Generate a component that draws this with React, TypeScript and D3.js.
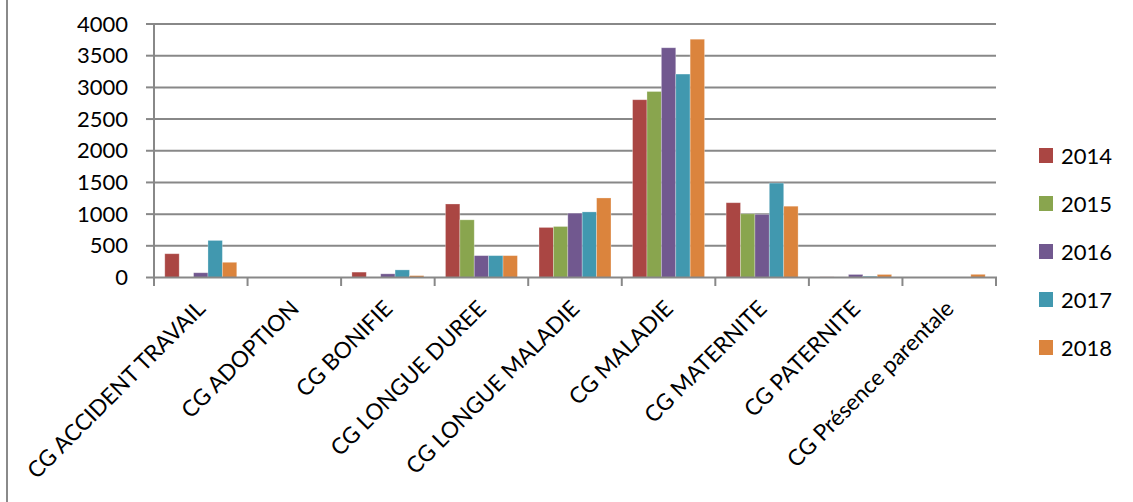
import React from "react";
import * as d3 from "d3";

const categories = [
  "CG ACCIDENT TRAVAIL",
  "CG ADOPTION",
  "CG BONIFIE",
  "CG LONGUE DUREE",
  "CG LONGUE MALADIE",
  "CG MALADIE",
  "CG MATERNITE",
  "CG PATERNITE",
  "CG Présence parentale",
];
const years = ["2014", "2015", "2016", "2017", "2018"];
const s2014 = [375, 0, 85, 1160, 790, 2805, 1180, 10, 0];
const s2015 = [0, 0, 0, 910, 805, 2935, 1005, 0, 0];
const s2016 = [75, 0, 58, 345, 1015, 3625, 995, 48, 0];
const s2017 = [585, 0, 120, 345, 1035, 3210, 1490, 20, 0];
const s2018 = [240, 0, 30, 345, 1255, 3760, 1125, 48, 50];
const series = [s2014, s2015, s2016, s2017, s2018];
const colors = ["#AA4643", "#89A54E", "#71588F", "#4198AF", "#DB843D"];
const yTicks = [0, 500, 1000, 1500, 2000, 2500, 3000, 3500, 4000];

const W = 1133;
const H = 502;
const left = 154;
const right = 996;
const top = 24;
const bottom = 277.5;
const font = "Lato, 'Liberation Sans', sans-serif";

export default function App() {
  const x = d3.scaleBand<string>().domain(categories).range([left, right]).padding(0);
  const xs = d3
    .scaleBand<string>()
    .domain(years)
    .range([0, x.bandwidth()])
    .paddingInner(0)
    .paddingOuter(0.75);
  const y = d3.scaleLinear().domain([0, 4000]).range([bottom, top]);

  return (
    <svg
      width={W}
      height={H}
      style={{ position: "absolute", left: 0, top: 0, background: "#fff" }}
    >
      <line x1={7} x2={7} y1={0} y2={H} stroke="#8a8a8a" strokeWidth={2} />
      {yTicks.map((t) => (
        <g key={t}>
          {t > 0 && (
            <line x1={left} x2={right} y1={y(t)} y2={y(t)} stroke="#888" strokeWidth={2} />
          )}
          <line x1={146} x2={left} y1={y(t)} y2={y(t)} stroke="#888" strokeWidth={2} />
          <text
            x={128}
            y={y(t) + 7.5}
            textAnchor="end"
            fontFamily={font}
            fontSize={22}
            fill="#000"
          >
            {t}
          </text>
        </g>
      ))}
      {series.map((vals, si) =>
        vals.map((v, ci) =>
          v > 0 ? (
            <rect
              key={`${si}-${ci}`}
              x={(x(categories[ci]) as number) + (xs(years[si]) as number)}
              y={y(v)}
              width={xs.bandwidth()}
              height={bottom - y(v)}
              fill={colors[si]}
              stroke="#ffffff"
              strokeOpacity={0.35}
              strokeWidth={0.8}
            />
          ) : null
        )
      )}
      <line x1={left} x2={left} y1={top} y2={bottom} stroke="#888" strokeWidth={2} />
      <line x1={left - 1} x2={right + 1} y1={bottom} y2={bottom} stroke="#888" strokeWidth={2} />
      {categories.concat([""]).map((c, i) => {
        const xx = left + i * x.step();
        return (
          <line key={`t${i}`} x1={xx} x2={xx} y1={bottom} y2={286} stroke="#888" strokeWidth={2} />
        );
      })}
      {categories.map((c) => {
        const cx = (x(c) as number) + x.bandwidth() / 2 + 6;
        const cy = 310;
        return (
          <text
            key={c}
            transform={`translate(${cx},${cy}) rotate(-45)`}
            textAnchor="end"
            fontFamily={font}
            fontSize={22.5}
            fill="#000"
          >
            {c}
          </text>
        );
      })}
      {years.map((yr, i) => (
        <g key={yr} transform={`translate(1039,${148 + i * 48})`}>
          <rect width={14} height={15} fill={colors[i]} />
          <text x={22} y={15.5} fontFamily={font} fontSize={22} fill="#000">
            {yr}
          </text>
        </g>
      ))}
    </svg>
  );
}
